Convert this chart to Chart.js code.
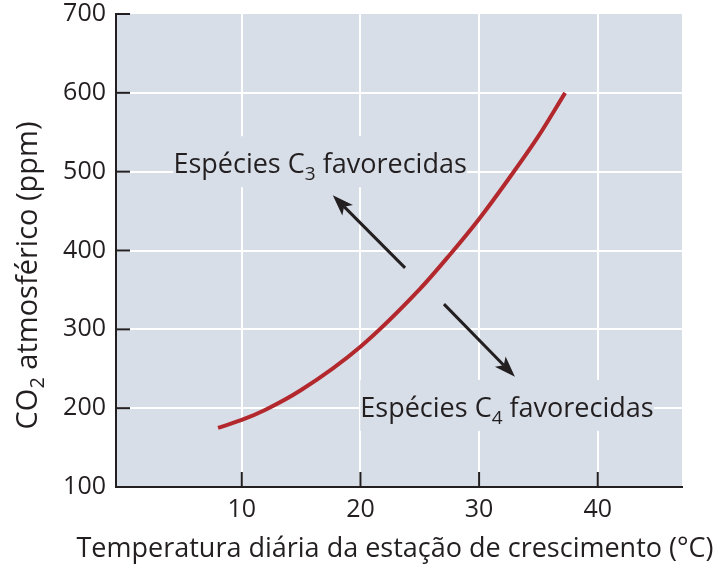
<!DOCTYPE html>
<html lang="pt">
<head>
<meta charset="UTF-8">
<title>CO2 atmosférico x temperatura</title>
<script src="https://cdn.jsdelivr.net/npm/chart.js"></script>
<style>
  body { margin: 0; background: #fff; }
  canvas { display: block; }
</style>
</head>
<body>
<canvas id="chart" width="728" height="574"></canvas>
<script>
// curva de transição C3/C4 (temperatura em °C, CO2 em ppm)
const temperatura = [8, 10, 12, 15, 20, 25, 27.5, 30, 32.5, 35, 37.25];
const co2 = [175, 185, 198, 223, 278, 351, 394, 440, 491, 545, 600];

const xTicks = [10, 20, 30, 40];
const yTicks = [100, 200, 300, 400, 500, 600, 700];

const tituloX = 'Temperatura diária da estação de crescimento (°C)';
const tituloY = { antes: 'CO', sub: '2', depois: ' atmosférico (ppm)' };

// rótulos e setas, em coordenadas dos dados
const rotulos = [
  { antes: 'Espécies C', sub: '3', depois: ' favorecidas', x: 16.6, y: 498 },
  { antes: 'Espécies C', sub: '4', depois: ' favorecidas', x: 32.35, y: 189 }
];
const setas = [
  { de: [23.76, 378], para: [17.67, 470] },
  { de: [27.04, 332], para: [33.02, 240] }
];

const fundo = '#d7dee8';
const tinta = '#231f20';
const fonte = '"Open Sans", sans-serif';

function medeSub(ctx, partes, tam) {
  ctx.font = tam + 'px ' + fonte;
  const w1 = ctx.measureText(partes.antes).width;
  const w3 = ctx.measureText(partes.depois).width;
  ctx.font = Math.round(tam * 0.7) + 'px ' + fonte;
  const w2 = ctx.measureText(partes.sub).width;
  return { w1, w2, w3, total: w1 + w2 + w3 };
}

function desenhaSub(ctx, partes, x0, base, tam, m) {
  ctx.font = tam + 'px ' + fonte;
  ctx.fillText(partes.antes, x0, base);
  ctx.fillText(partes.depois, x0 + m.w1 + m.w2, base);
  ctx.font = Math.round(tam * 0.7) + 'px ' + fonte;
  ctx.fillText(partes.sub, x0 + m.w1, base + tam * 0.25);
}

const desenho = {
  id: 'desenho',
  beforeDraw(chart) {
    const { ctx, chartArea: a } = chart;
    ctx.save();
    ctx.fillStyle = fundo;
    ctx.fillRect(a.left, a.top, a.right - a.left, a.bottom - a.top);
    ctx.restore();
  },
  afterDatasetsDraw(chart) {
    const { ctx, chartArea: a, scales: { x, y } } = chart;
    ctx.save();

    // marcas dos eixos voltadas para dentro
    ctx.strokeStyle = tinta;
    ctx.lineWidth = 2;
    xTicks.forEach(v => {
      const px = x.getPixelForValue(v);
      ctx.beginPath(); ctx.moveTo(px, a.bottom); ctx.lineTo(px, a.bottom - 15); ctx.stroke();
    });
    yTicks.forEach(v => {
      const py = y.getPixelForValue(v);
      ctx.beginPath(); ctx.moveTo(a.left, py); ctx.lineTo(a.left + 14, py); ctx.stroke();
    });

    // rótulos com subscrito, sobre uma caixa da cor do fundo
    ctx.textAlign = 'left';
    ctx.textBaseline = 'alphabetic';
    rotulos.forEach(r => {
      const px = x.getPixelForValue(r.x), py = y.getPixelForValue(r.y);
      const m = medeSub(ctx, r, 27);
      const x0 = px - m.total / 2;
      ctx.fillStyle = fundo;
      ctx.fillRect(x0, py - 37, m.total, 51);
      ctx.fillStyle = tinta;
      desenhaSub(ctx, r, x0, py, 27, m);
    });

    // setas
    setas.forEach(s => {
      const x1 = x.getPixelForValue(s.de[0]), y1 = y.getPixelForValue(s.de[1]);
      const x2 = x.getPixelForValue(s.para[0]), y2 = y.getPixelForValue(s.para[1]);
      const ang = Math.atan2(y2 - y1, x2 - x1);
      const len = 21, meia = 7.5, recuo = 5;
      ctx.strokeStyle = tinta;
      ctx.lineWidth = 3;
      ctx.beginPath();
      ctx.moveTo(x1, y1);
      ctx.lineTo(x2 - Math.cos(ang) * (len - recuo), y2 - Math.sin(ang) * (len - recuo));
      ctx.stroke();
      ctx.save();
      ctx.translate(x2, y2);
      ctx.rotate(ang);
      ctx.fillStyle = tinta;
      ctx.beginPath();
      ctx.moveTo(0, 0);
      ctx.lineTo(-len, -meia);
      ctx.lineTo(-len + recuo, 0);
      ctx.lineTo(-len, meia);
      ctx.closePath();
      ctx.fill();
      ctx.restore();
    });

    // título do eixo x (mais largo que a área do gráfico)
    ctx.fillStyle = tinta;
    ctx.font = '27px ' + fonte;
    ctx.textAlign = 'center';
    ctx.fillText(tituloX, (a.left + a.right) / 2 - 4, a.bottom + 70);
    ctx.textAlign = 'left';

    // título do eixo y (CO2 com subscrito)
    const mt = medeSub(ctx, tituloY, 29);
    ctx.save();
    ctx.translate(37, (a.top + a.bottom) / 2 + 25);
    ctx.rotate(-Math.PI / 2);
    ctx.fillStyle = tinta;
    desenhaSub(ctx, tituloY, -mt.total / 2, 0, 29, mt);
    ctx.restore();

    ctx.restore();
  }
};

new Chart(document.getElementById('chart'), {
  type: 'line',
  data: {
    datasets: [{
      data: temperatura.map((t, i) => ({ x: t, y: co2[i] })),
      borderColor: '#b3282d',
      borderWidth: 4,
      pointRadius: 0,
      cubicInterpolationMode: 'monotone',
      fill: false
    }]
  },
  options: {
    responsive: false,
    animation: false,
    layout: { padding: { top: 14, right: 46, left: 0, bottom: 0 } },
    plugins: { legend: { display: false }, tooltip: { enabled: false } },
    scales: {
      x: {
        type: 'linear',
        min: -0.6,
        max: 47.1,
        afterBuildTicks: s => { s.ticks = xTicks.map(v => ({ value: v })); },
        afterFit: s => { s.height = 87; s.paddingLeft = 0; s.paddingRight = 0; },
        grid: { color: '#ffffff', lineWidth: 2, drawTicks: false },
        border: { display: true, color: tinta, width: 2 },
        ticks: { color: tinta, font: { family: fonte, size: 25 }, padding: 8, maxRotation: 0 }
      },
      y: {
        min: 100,
        max: 700,
        afterBuildTicks: s => { s.ticks = yTicks.map(v => ({ value: v })); },
        afterFit: s => { s.width = 116; s.paddingTop = 0; s.paddingBottom = 0; },
        grid: {
          color: c => (c.tick && c.tick.value > 100 && c.tick.value < 700) ? '#ffffff' : 'rgba(0,0,0,0)',
          lineWidth: 2,
          drawTicks: false
        },
        border: { display: true, color: tinta, width: 2 },
        ticks: { color: tinta, font: { family: fonte, size: 25 }, padding: 10 }
      }
    }
  },
  plugins: [desenho]
});
</script>
</body>
</html>
